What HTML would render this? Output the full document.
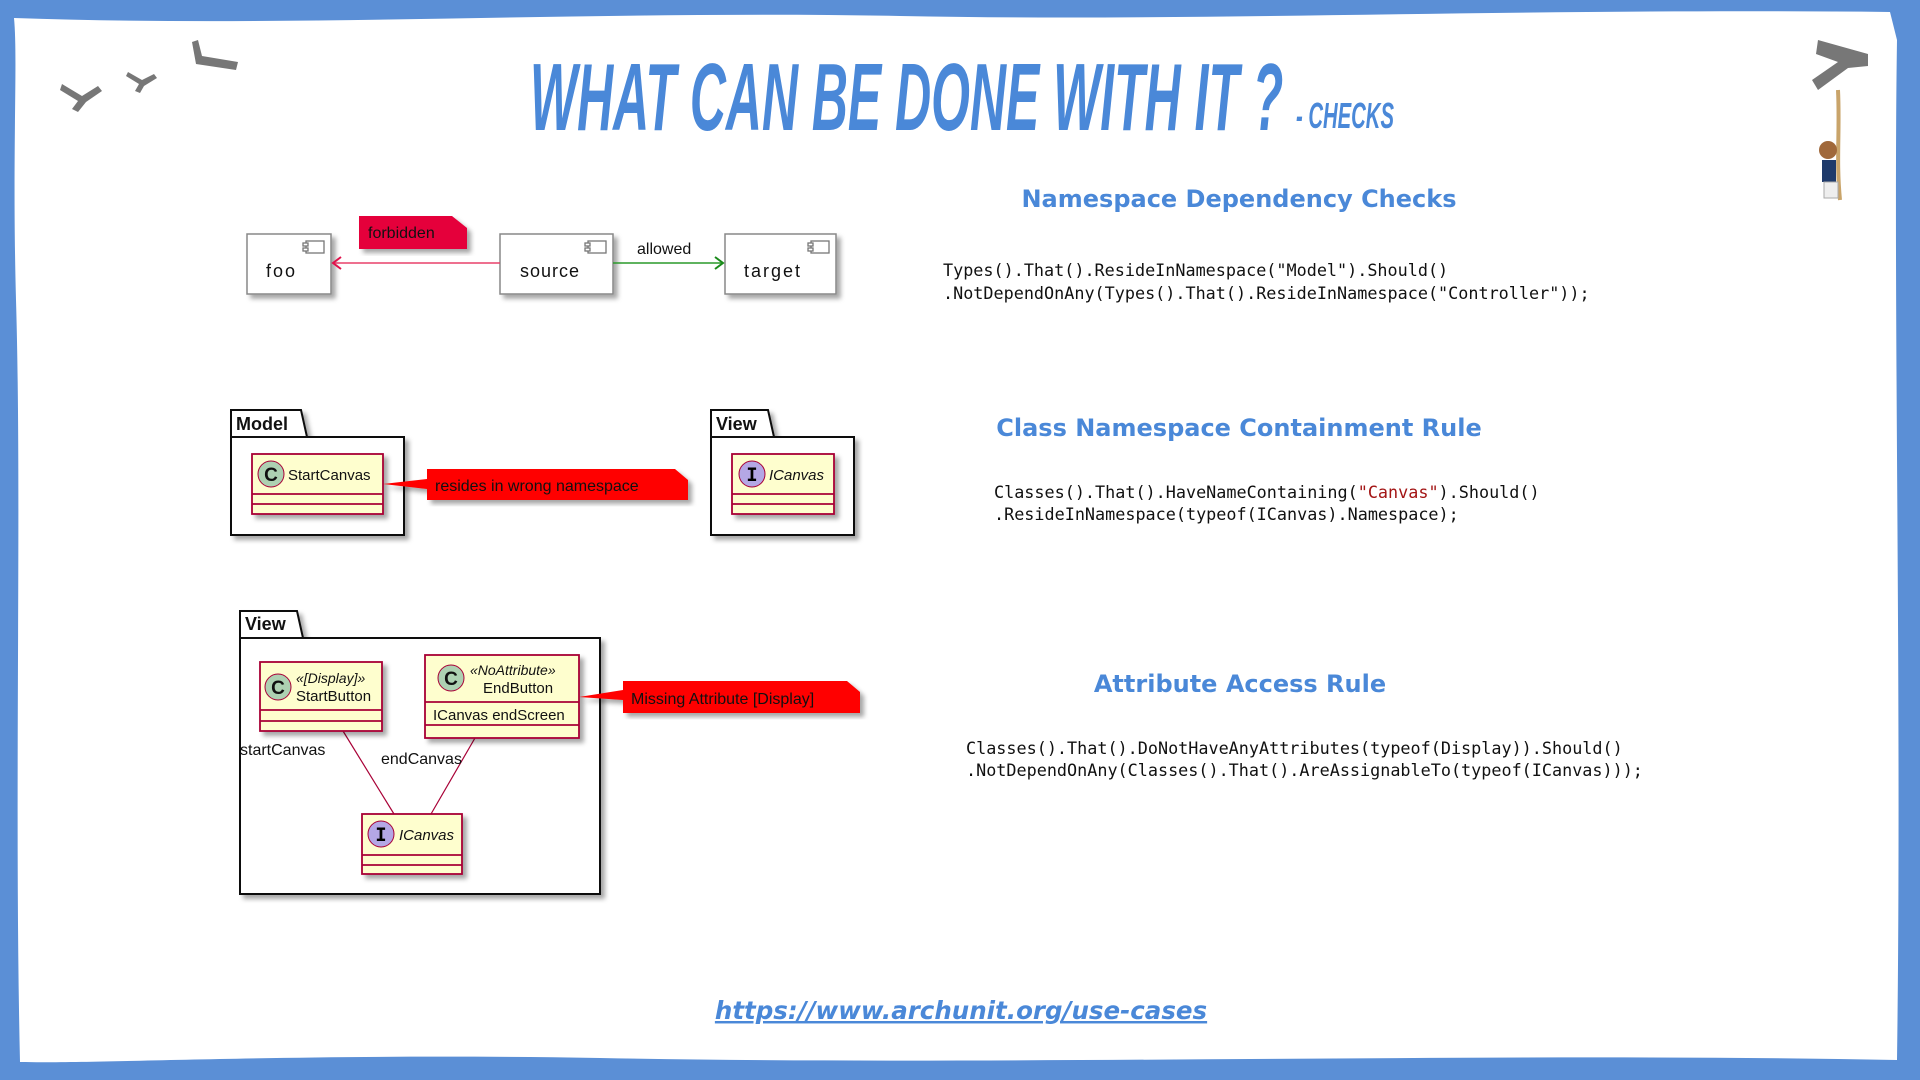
<!DOCTYPE html>
<html><head><meta charset="utf-8"><style>
html,body{margin:0;padding:0;width:1920px;height:1080px;overflow:hidden;background:#5b8fd6}
svg{display:block}
.code{font-family:"DejaVu Sans Mono","Liberation Mono",monospace;font-size:16.8px;fill:#111}
.h{font-family:"DejaVu Sans","Liberation Sans",sans-serif;font-weight:bold;font-size:24px;fill:#4a88d8}
.d{font-family:"Liberation Sans",sans-serif;fill:#111}
</style></head><body>
<svg width="1920" height="1080" viewBox="0 0 1920 1080" xmlns="http://www.w3.org/2000/svg">
<defs>
<filter id="sh" x="-10%" y="-10%" width="130%" height="130%"><feDropShadow dx="4" dy="4" stdDeviation="2.5" flood-color="#000" flood-opacity="0.35"/></filter>
</defs>
<rect width="1920" height="1080" fill="#5b8fd6"/>
<path d="M14,18 C300,28 600,10 900,16 C1200,22 1500,8 1890,12 L1897,40 C1893,300 1902,700 1897,1060 C1500,1052 1000,1066 600,1058 C300,1053 100,1064 20,1062 C14,800 22,500 16,300 C12,150 18,60 14,18 Z" fill="#fff"/>
<g fill="#777">
<path d="M62,84 l20,12 l16,-10 l4,5 l-16,11 l-8,10 l-6,-3 l6,-8 l-18,-11z"/>
<path d="M128,72 l14,8 l12,-6 l3,4 l-13,8 l-4,7 l-5,-2 l4,-7 l-13,-8z"/>
<path d="M198,40 l4,16 l36,6 l-2,8 l-40,-6 l-4,-22z"/>
<path d="M1818,40 l50,14 l0,12 l-20,2 l-30,22 l-6,-10 l26,-18 l-22,-8z"/>
</g>
<path d="M1838,90 C1840,130 1836,160 1840,200" stroke="#c9a46a" stroke-width="4" fill="none"/>
<circle cx="1828" cy="150" r="9" fill="#a0683a"/>
<rect x="1822" y="160" width="14" height="22" fill="#1e3a6b"/>
<rect x="1824" y="182" width="14" height="16" fill="#eee" stroke="#aaa"/>
<g transform="translate(530,130) scale(0.62,1)"><text x="0" y="0" font-family="'Liberation Sans Narrow','Liberation Sans',sans-serif" font-weight="bold" font-style="italic" font-size="96" fill="#4a88d8" textLength="1215" lengthAdjust="spacingAndGlyphs">WHAT CAN BE DONE WITH IT ?</text></g>
<g transform="translate(1296,128) scale(0.62,1)"><text x="0" y="0" font-family="'Liberation Sans Narrow','Liberation Sans',sans-serif" font-weight="bold" font-style="italic" font-size="36" fill="#4a88d8" textLength="158" lengthAdjust="spacingAndGlyphs">- CHECKS</text></g>
<text class="h" x="1239" y="207" text-anchor="middle">Namespace Dependency Checks</text>
<text class="h" x="1239" y="436" text-anchor="middle">Class Namespace Containment Rule</text>
<text class="h" x="1240" y="692" text-anchor="middle">Attribute Access Rule</text>
<text class="code" x="943" y="276">Types().That().ResideInNamespace("Model").Should()</text>
<text class="code" x="943" y="299">.NotDependOnAny(Types().That().ResideInNamespace("Controller"));</text>
<text class="code" x="994" y="498">Classes().That().HaveNameContaining(<tspan fill="#a31515">"Canvas"</tspan>).Should()</text>
<text class="code" x="994" y="520">.ResideInNamespace(typeof(ICanvas).Namespace);</text>
<text class="code" x="966" y="754">Classes().That().DoNotHaveAnyAttributes(typeof(Display)).Should()</text>
<text class="code" x="966" y="776">.NotDependOnAny(Classes().That().AreAssignableTo(typeof(ICanvas)));</text>
<text x="961" y="1019" text-anchor="middle" font-family="'DejaVu Sans',sans-serif" font-weight="bold" font-style="italic" font-size="24.5" fill="#4a88d8" text-decoration="underline">https://www.archunit.org/use-cases</text>

<g filter="url(#sh)" fill="#fff" stroke="#888" stroke-width="1.5">
<rect x="247" y="234" width="84" height="60"/>
<rect x="500" y="234" width="113" height="60"/>
<rect x="725" y="234" width="111" height="60"/>
</g>
<g fill="#fff" stroke="#777" stroke-width="1.3">
<rect x="306" y="241" width="18" height="12"/><rect x="303" y="243" width="5" height="3"/><rect x="303" y="248" width="5" height="3"/>
<rect x="588" y="241" width="18" height="12"/><rect x="585" y="243" width="5" height="3"/><rect x="585" y="248" width="5" height="3"/>
<rect x="811" y="241" width="18" height="12"/><rect x="808" y="243" width="5" height="3"/><rect x="808" y="248" width="5" height="3"/>
</g>
<text class="d" x="266" y="277" font-size="18" letter-spacing="2">foo</text>
<text class="d" x="520" y="277" font-size="18" letter-spacing="1">source</text>
<text class="d" x="744" y="277" font-size="18" letter-spacing="2">target</text>
<path d="M359,216 h93 l15,12 v21 h-108z" fill="#e5003a" filter="url(#sh)"/>
<text class="d" x="368" y="238" font-size="16" fill="#222">forbidden</text>
<line x1="500" y1="263" x2="333" y2="263" stroke="#e8416a" stroke-width="1.5"/>
<path d="M341,257 l-8,6 l8,6" stroke="#e0104a" stroke-width="2" fill="none"/>
<line x1="613" y1="263" x2="723" y2="263" stroke="#2a9a2a" stroke-width="1.5"/>
<path d="M715,257 l8,6 l-8,6" stroke="#1a8a1a" stroke-width="2" fill="none"/>
<text class="d" x="637" y="254" font-size="16">allowed</text>

<g filter="url(#sh)" fill="#fff" stroke="#111" stroke-width="2">
<path d="M231,437 v-27 h70 l6,27 h97 v98 h-173z"/>
<path d="M711,437 v-27 h57 l6,27 h80 v98 h-143z"/>
</g>
<line x1="231" y1="437" x2="307" y2="437" stroke="#111" stroke-width="2"/>
<line x1="711" y1="437" x2="774" y2="437" stroke="#111" stroke-width="2"/>
<text class="d" x="236" y="430" font-size="18" font-weight="bold">Model</text>
<text class="d" x="716" y="430" font-size="18" font-weight="bold">View</text>
<g filter="url(#sh)" fill="#fefece" stroke="#a80036" stroke-width="1.8">
<rect x="252" y="454" width="131" height="60"/>
<rect x="732" y="454" width="102" height="60"/>
</g>
<g stroke="#a80036" stroke-width="1.8"><line x1="252" y1="494" x2="383" y2="494"/><line x1="252" y1="504" x2="383" y2="504"/><line x1="732" y1="494" x2="834" y2="494"/><line x1="732" y1="504" x2="834" y2="504"/></g>
<circle cx="271" cy="474" r="13" fill="#add1b2" stroke="#a80036" stroke-width="1"/>
<text class="d" x="271" y="481" font-size="19" text-anchor="middle" font-weight="bold">C</text>
<text class="d" x="288" y="480" font-size="15">StartCanvas</text>
<circle cx="752" cy="474" r="13" fill="#b4a7e5" stroke="#a80036" stroke-width="1"/>
<text x="752" y="481" font-size="19" text-anchor="middle" font-family="'DejaVu Sans Mono',monospace" font-weight="bold">I</text>
<text class="d" x="769" y="480" font-size="15" font-style="italic">ICanvas</text>
<path d="M383,484 L427,479 V469 h248 l13,11 v20 h-261 v-11z" fill="#f00" filter="url(#sh)"/>
<text class="d" x="435" y="491" font-size="16" fill="#300">resides in wrong namespace</text>

<g filter="url(#sh)" fill="#fff" stroke="#111" stroke-width="2">
<path d="M240,638 v-27 h57 l6,27 h297 v256 h-360z"/>
</g>
<line x1="240" y1="638" x2="303" y2="638" stroke="#111" stroke-width="2"/>
<text class="d" x="245" y="630" font-size="18" font-weight="bold">View</text>
<line x1="343" y1="731" x2="394" y2="814" stroke="#a80036" stroke-width="1.2"/>
<line x1="475" y1="738" x2="431" y2="814" stroke="#a80036" stroke-width="1.2"/>
<g filter="url(#sh)" fill="#fefece" stroke="#a80036" stroke-width="1.8">
<rect x="260" y="662" width="122" height="69"/>
<rect x="425" y="655" width="154" height="83"/>
<rect x="362" y="814" width="100" height="60"/>
</g>
<g stroke="#a80036" stroke-width="1.8">
<line x1="260" y1="710" x2="382" y2="710"/><line x1="260" y1="721" x2="382" y2="721"/>
<line x1="425" y1="702" x2="579" y2="702"/><line x1="425" y1="725" x2="579" y2="725"/>
<line x1="362" y1="855" x2="462" y2="855"/><line x1="362" y1="865" x2="462" y2="865"/>
</g>
<circle cx="278" cy="687" r="13" fill="#add1b2" stroke="#a80036" stroke-width="1"/>
<text class="d" x="278" y="694" font-size="19" text-anchor="middle" font-weight="bold">C</text>
<text class="d" x="296" y="683" font-size="14" font-style="italic">«[Display]»</text>
<text class="d" x="296" y="701" font-size="15">StartButton</text>
<circle cx="451" cy="678" r="13" fill="#add1b2" stroke="#a80036" stroke-width="1"/>
<text class="d" x="451" y="685" font-size="19" text-anchor="middle" font-weight="bold">C</text>
<text class="d" x="470" y="675" font-size="14" font-style="italic">«NoAttribute»</text>
<text class="d" x="483" y="693" font-size="15">EndButton</text>
<text class="d" x="433" y="720" font-size="15">ICanvas endScreen</text>
<circle cx="381" cy="834" r="13" fill="#b4a7e5" stroke="#a80036" stroke-width="1"/>
<text x="381" y="841" font-size="19" text-anchor="middle" font-family="'DejaVu Sans Mono',monospace" font-weight="bold">I</text>
<text class="d" x="399" y="840" font-size="15" font-style="italic">ICanvas</text>
<text class="d" x="240" y="755" font-size="16">startCanvas</text>
<text class="d" x="381" y="764" font-size="16">endCanvas</text>
<path d="M579,697 L623,690 V681 h224 l13,11 v21 h-237 v-13z" fill="#f00" filter="url(#sh)"/>
<text class="d" x="631" y="704" font-size="16" fill="#300">Missing Attribute [Display]</text>
</svg>
</body></html>
